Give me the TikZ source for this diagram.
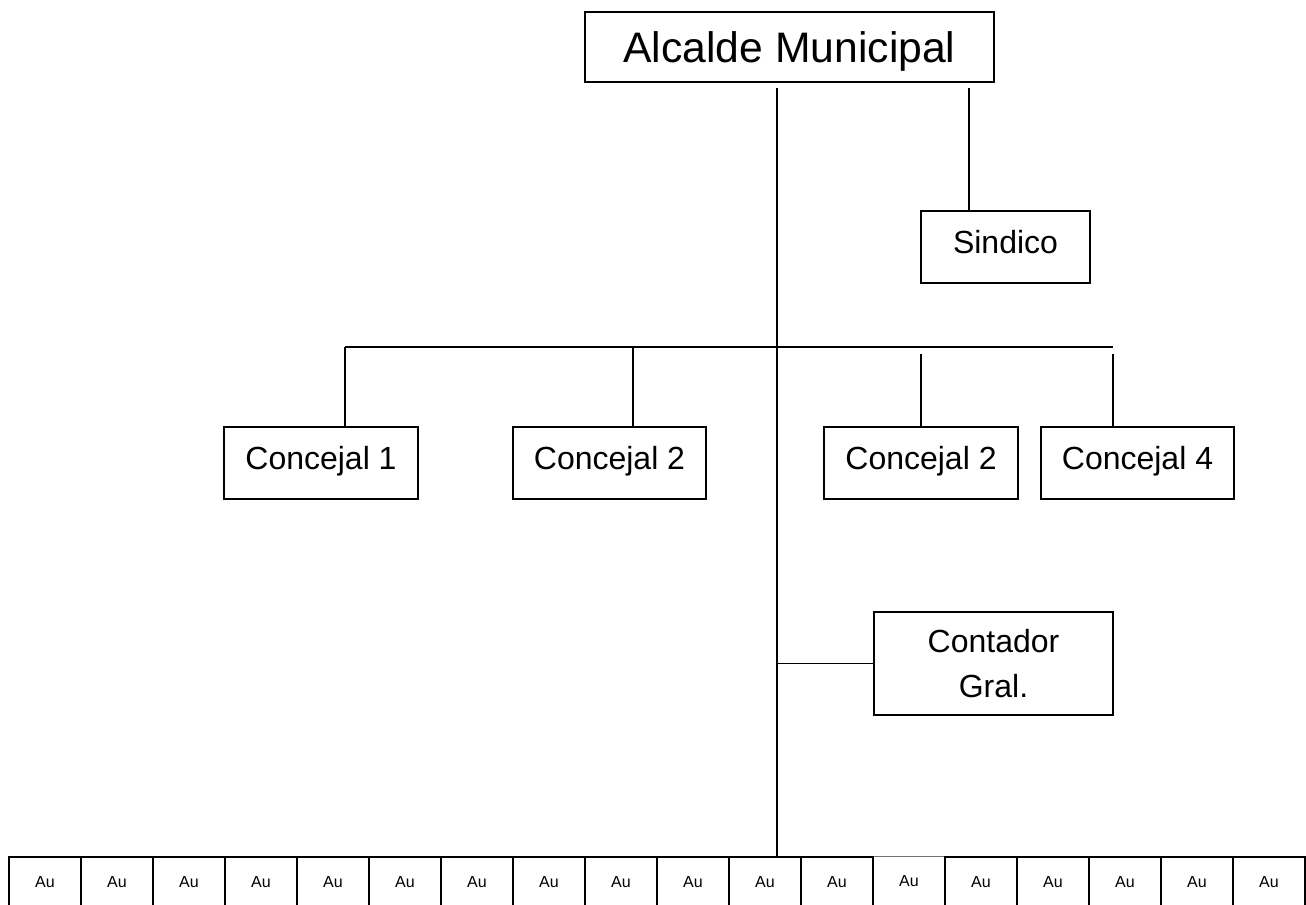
\documentclass[tikz,border=0pt]{standalone}
\usepackage{fontspec}
\setmainfont{Liberation Sans}
\usepackage{tikz}
\usetikzlibrary{positioning}

\begin{document}
\begin{tikzpicture}[x=0.75pt,y=0.75pt,yscale=-1,xscale=1,
  line width=1.3pt,
  orgbox/.style={draw, inner sep=0pt, align=center, font=\fontsize{24}{33.5}\selectfont, text depth=7pt},
  topbox/.style={draw, inner sep=0pt, font=\fontsize{32}{38}\selectfont, text depth=0pt},
  aubox/.style={draw, inner sep=0pt, minimum width=54pt, minimum height=37.5pt, font=\fontsize{12}{14}\selectfont, text depth=0pt},
  aulight/.style={aubox, draw=black!55, line width=0.6pt}]
\useasboundingbox (0,0) rectangle (1306,905);

%Rectangle: Alcalde
\node [topbox, minimum width=306.75pt, minimum height=52.5pt] (alcalde) at (789.5,47) {Alcalde Municipal};
%Rectangle: Sindico
\node [orgbox, minimum width=126.75pt, minimum height=54pt] (sindico) at (1005.5,247) {Sindico};
%Rectangles: Concejales
\node [orgbox, minimum width=145.5pt, minimum height=54pt] (conc1) at (321,463) {Concejal 1};
\node [orgbox, minimum width=144.75pt, minimum height=54pt] (conc2) at (609.5,463) {Concejal 2};
\node [orgbox, minimum width=145.5pt, minimum height=54pt] (conc3) at (921,463) {Concejal 2};
\node [orgbox, minimum width=144.75pt, minimum height=54pt] (conc4) at (1137.5,463) {Concejal 4};
%Rectangle: Contador
\node [orgbox, text depth=0pt, minimum width=179.25pt, minimum height=77.25pt] (contador) at (993.5,663.5) {Contador\\Gral.};

%Bottom row
\node [aulight] (au12) at (909,881) {Au};
\foreach \i in {0,...,11,13,14,15,16,17}
  \node [aubox] (au\i) at (45+72*\i,882) {Au};

%Straight Lines
\coordinate (spineTop) at (777,88);
\coordinate (sindTop) at (969,88);
\coordinate (barL) at (345,347);
\coordinate (barR) at (1113,347);
\coordinate (barC2) at (633,347);
\coordinate (gapR) at (1113,354);

\draw (spineTop) -- (spineTop |- au10.north);
\draw (sindTop) -- (sindTop |- sindico.north);
\draw (barL) -- (barR);
\draw (barL) -- (barL |- conc1.north);
\draw (barC2) -- (barC2 |- conc2.north);
\draw (conc3.north) -- (conc3.north |- gapR);
\draw (gapR) -- (gapR |- conc4.north);
\draw (contador.west) -- (contador.west -| spineTop);

\end{tikzpicture}
\end{document}
